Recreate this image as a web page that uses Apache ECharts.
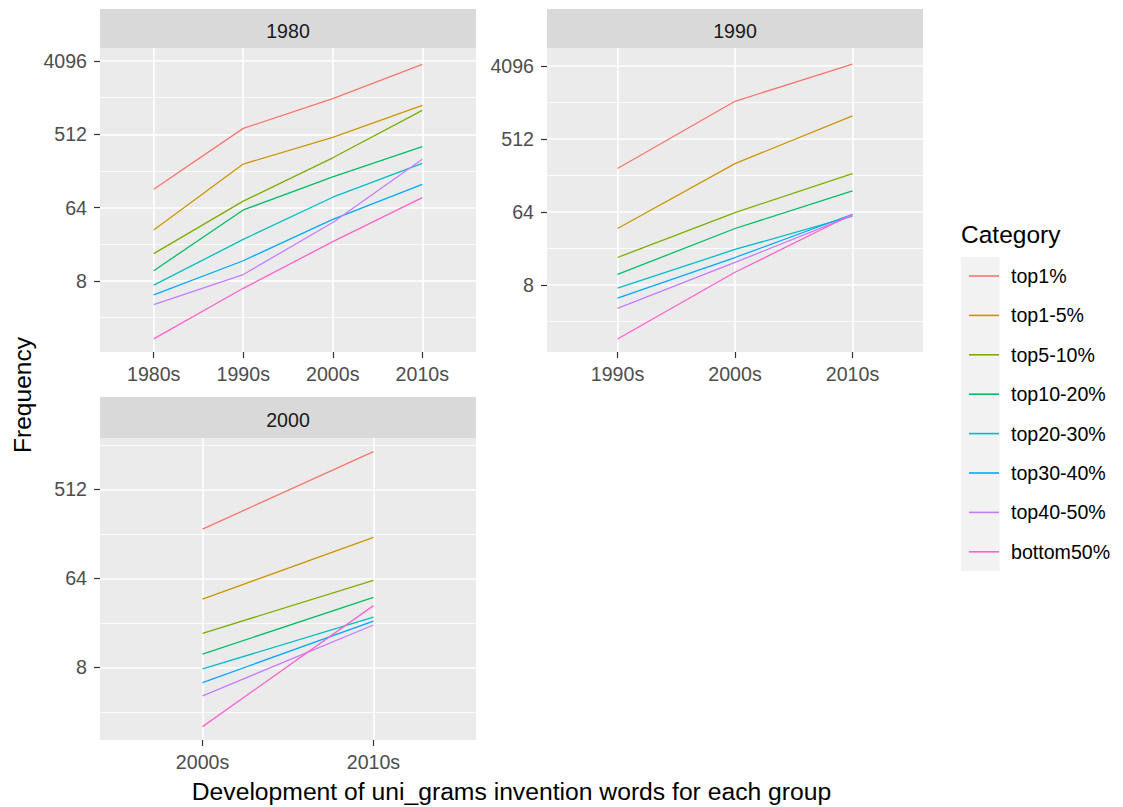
<!DOCTYPE html>
<html>
<head>
<meta charset="utf-8">
<script src="https://cdn.jsdelivr.net/npm/echarts@6/dist/echarts.min.js"></script>
<style>
  html, body { margin: 0; padding: 0; background: #ffffff; }
  #chart { width: 1123px; height: 807px; }
</style>
</head>
<body>
<div id="chart"></div>
<script>
// Word groups and their colours (ggplot default hue palette)
const categories = ['top1%', 'top1-5%', 'top5-10%', 'top10-20%', 'top20-30%', 'top30-40%', 'top40-50%', 'bottom50%'];
const colors = ['#F8766D', '#CD9600', '#7CAE00', '#00BE67', '#00BFC4', '#00A9FF', '#C77CFF', '#FF61CC'];

// Facets: invention cohort, and the decades observed for each
const cohorts = ['1980', '1990', '2000'];
const decades1980 = ['1980s', '1990s', '2000s', '2010s'];
const decades1990 = ['1990s', '2000s', '2010s'];
const decades2000 = ['2000s', '2010s'];

// Frequency per group (rows follow `categories`, columns follow the decades)
const freq1980 = [
  [108, 605, 1410, 3720],
  [34, 220, 468, 1160],
  [17.4, 77, 263, 1010],
  [10.7, 60, 153, 362],
  [7.1, 26, 86, 224],
  [5.4, 14.2, 46, 124],
  [4.1, 9.6, 42, 253],
  [1.55, 6.5, 24.4, 85]
];
const freq1990 = [
  [221, 1500, 4330],
  [40, 254, 990],
  [17.5, 63, 191],
  [10.8, 40, 117],
  [7.3, 22, 57],
  [5.5, 17.5, 60],
  [4.1, 15.2, 58],
  [1.72, 11.5, 60]
];
const freq2000 = [
  [202, 1235],
  [39.4, 167],
  [17.7, 61],
  [10.9, 41],
  [7.7, 25.8],
  [5.6, 23.6],
  [4.1, 21.5],
  [2.0, 33.8]
];

// Log2 axis breaks
const majorTicks = [8, 64, 512, 4096];
const minorTicks = [2.828, 22.63, 181.02, 1448.15];

const FONT = "'Liberation Sans', Arial, Helvetica, sans-serif";
const PANEL_W = 376;

// Panel layout (pixels) and log2 axis extents (exponents)
const panels = [
  { title: cohorts[0], decades: decades1980, values: freq1980, left: 100, top: 48, height: 304, stripTop: 9, stripH: 39, lo: 0.095, hi: 12.53 },
  { title: cohorts[1], decades: decades1990, values: freq1990, left: 547, top: 48, height: 304, stripTop: 9, stripH: 39, lo: 0.246, hi: 12.74 },
  { title: cohorts[2], decades: decades2000, values: freq2000, left: 100, top: 438, height: 302, stripTop: 397, stripH: 41, lo: 0.55, hi: 10.73 }
];

const grid = [], xAxis = [], yAxis = [], series = [], graphic = [];

panels.forEach((p, i) => {
  const n = p.decades.length;
  const unit = PANEL_W / (n - 1 + 1.2);
  const inset = 0.6 * unit;
  const yMin = Math.pow(2, p.lo);
  const yMax = Math.pow(2, p.hi);

  // outer grid: panel background and horizontal grid lines
  grid.push({ left: p.left, top: p.top, width: PANEL_W, height: p.height, show: true, backgroundColor: '#EBEBEB', borderWidth: 0 });
  // inner grid: discrete x positions (expanded like a discrete scale)
  grid.push({ left: p.left + inset, top: p.top, width: PANEL_W - 2 * inset, height: p.height });

  xAxis.push({ gridIndex: 2 * i, type: 'value', min: 0, max: 1, show: false });
  xAxis.push({
    gridIndex: 2 * i + 1, type: 'category', data: p.decades, boundaryGap: false,
    axisLine: { show: false },
    axisTick: { show: true, interval: 0, length: 6, lineStyle: { color: '#333333', width: 1.2 } },
    axisLabel: { interval: 0, margin: 12, color: '#4D4D4D', fontSize: 19.6, fontFamily: FONT },
    splitLine: { show: true, interval: 0, lineStyle: { color: '#FFFFFF', width: 1.6 } }
  });

  // minor lines
  yAxis.push({
    gridIndex: 2 * i, type: 'log', logBase: 2, min: yMin, max: yMax, position: 'left',
    axisLine: { show: false },
    axisTick: { show: false, customValues: minorTicks },
    axisLabel: { show: false, customValues: minorTicks },
    splitLine: { show: true, lineStyle: { color: '#FFFFFF', width: 0.8 } }
  });
  // major lines and labels
  yAxis.push({
    gridIndex: 2 * i, type: 'log', logBase: 2, min: yMin, max: yMax, position: 'left',
    axisLine: { show: false },
    axisTick: { show: true, length: 6, customValues: majorTicks, lineStyle: { color: '#333333', width: 1.2 } },
    axisLabel: {
      customValues: majorTicks, margin: 13, color: '#4D4D4D', fontSize: 19.6, fontFamily: FONT,
      formatter: v => String(Math.round(v))
    },
    splitLine: { show: true, lineStyle: { color: '#FFFFFF', width: 1.6 } }
  });
  // axis used by the lines
  yAxis.push({ gridIndex: 2 * i + 1, type: 'log', logBase: 2, min: yMin, max: yMax, show: false });

  categories.forEach((c, k) => {
    series.push({
      type: 'line', name: c,
      xAxisIndex: 2 * i + 1, yAxisIndex: 3 * i + 2,
      data: p.values[k],
      symbol: 'none', silent: true,
      lineStyle: { color: colors[k], width: 1.3 },
      itemStyle: { color: colors[k] },
      z: 3
    });
  });

  // facet strip
  graphic.push({
    type: 'rect', shape: { x: p.left, y: p.stripTop, width: PANEL_W, height: p.stripH },
    style: { fill: '#D9D9D9' }, silent: true
  });
  graphic.push({
    type: 'text', x: p.left + PANEL_W / 2, y: p.stripTop + p.stripH / 2 + 2.5,
    style: { text: p.title, fill: '#1A1A1A', fontSize: 19.6, fontFamily: FONT, align: 'center', verticalAlign: 'middle' },
    silent: true
  });
});

// axis titles
graphic.push({
  type: 'text', x: 22, y: 395, rotation: Math.PI / 2,
  style: { text: 'Frequency', fill: '#000000', fontSize: 24.5, fontFamily: FONT, align: 'center', verticalAlign: 'middle' },
  silent: true
});
graphic.push({
  type: 'text', x: 511.5, y: 791,
  style: { text: 'Development of uni_grams invention words for each group', fill: '#000000', fontSize: 24.7, fontFamily: FONT, align: 'center', verticalAlign: 'middle' },
  silent: true
});
// legend title and key background
graphic.push({
  type: 'text', x: 961, y: 234.5,
  style: { text: 'Category', fill: '#000000', fontSize: 24.5, fontFamily: FONT, align: 'left', verticalAlign: 'middle' },
  silent: true
});
graphic.push({
  type: 'rect', shape: { x: 961, y: 257, width: 38.6, height: 314 },
  style: { fill: '#F2F2F2' }, silent: true, z: 0
});

const chart = echarts.init(document.getElementById('chart'), null, { renderer: 'svg' });
chart.setOption({
  backgroundColor: '#FFFFFF',
  animation: false,
  grid, xAxis, yAxis, series, graphic,
  legend: {
    data: categories,
    orient: 'vertical',
    left: 964, top: 261,
    icon: 'rect', itemWidth: 30, itemHeight: 1.6,
    itemGap: 19.4,
    selectedMode: false,
    z: 5,
    textStyle: { fontSize: 19.6, lineHeight: 20, color: '#000000', fontFamily: FONT, padding: [0, 0, 0, 7] }
  }
});
</script>
</body>
</html>
